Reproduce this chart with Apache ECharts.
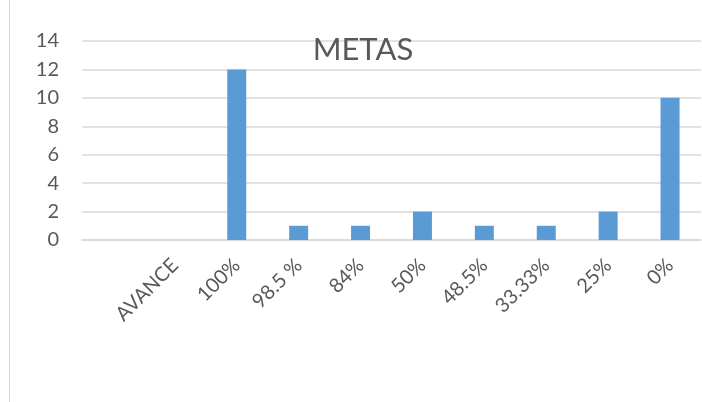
<!DOCTYPE html>
<html>
<head>
<meta charset="utf-8">
<script src="https://cdn.jsdelivr.net/npm/echarts@6/dist/echarts.min.js"></script>
<style>
  html, body { margin: 0; padding: 0; background: #fff; }
  #chart { width: 702px; height: 402px; }
</style>
</head>
<body>
<div id="chart"></div>
<script>
// categories as on the sheet (first slot is empty)
const categories = ['', 'AVANCE', '100%', '98.5 %', '84%', '50%', '48.5%', '33.33%', '25%', '0%']
const metas = [null, null, 12, 1, 1, 2, 1, 1, 2, 10]
const yTicks = { min: 0, max: 14, interval: 2 }

const chart = echarts.init(document.getElementById('chart'))
const textColor = '#595959'
const fontName = 'Lato, "Open Sans", sans-serif'

chart.setOption({
    animation: false,
    title: {
        text: 'METAS',
        left: 358,
        top: 29,
        textAlign: 'center',
        textStyle: { color: textColor, fontSize: 31, fontWeight: 'normal', fontFamily: fontName }
    },
    grid: { left: 82, right: 1, top: 41, bottom: 162, containLabel: false },
    graphic: [{
        type: 'line',
        shape: { x1: 9.5, y1: 0, x2: 9.5, y2: 402 },
        style: { stroke: '#d9d9d9', lineWidth: 1 }
    }],
    xAxis: {
        type: 'category',
        data: categories,
        axisLine: { lineStyle: { color: '#d9d9d9', width: 1.5 } },
        axisTick: { show: false },
        axisLabel: {
            rotate: 45,
            interval: 0,
            margin: 22,
            color: textColor,
            fontSize: 20,
            fontFamily: fontName
        }
    },
    yAxis: {
        type: 'value',
        min: yTicks.min,
        max: yTicks.max,
        interval: yTicks.interval,
        axisLine: { show: false },
        axisTick: { show: false },
        splitLine: { lineStyle: { color: '#d9d9d9', width: 1.5 } },
        axisLabel: { margin: 23, color: textColor, fontSize: 20, fontFamily: fontName }
    },
    series: [{
        type: 'bar',
        data: metas,
        barWidth: 19,
        itemStyle: { color: '#5b9bd5' }
    }]
})
</script>
</body>
</html>
